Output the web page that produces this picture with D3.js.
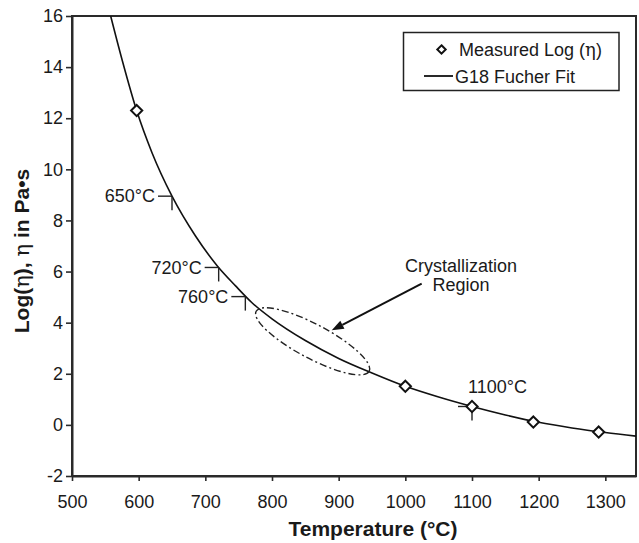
<!DOCTYPE html>
<html>
<head>
<meta charset="utf-8">
<script src="https://cdn.jsdelivr.net/npm/d3@7"></script>
<style>
  html, body { margin: 0; padding: 0; background: #fff; }
  svg { display: block; font-family: "Liberation Sans", Arial, sans-serif; }
</style>
</head>
<body>
<svg id="chart" width="639" height="543"></svg>
<script>
// Measured viscosity points (temperature in °C, log10 viscosity in Pa·s)
const measuredTemp = [597, 1000, 1100, 1192, 1290];
const measuredLog  = [12.3, 1.51, 0.72, 0.11, -0.28];

// G18 Fulcher fit curve, sampled along the drawn line
const fitTemp = [558, 575, 597, 620, 650, 685, 718, 745, 770, 800, 850, 900, 950, 1000, 1050, 1100, 1150, 1200, 1250, 1300, 1346];
const fitLog  = [16.0, 14.3, 12.3, 10.65, 8.95, 7.4, 6.22, 5.45, 4.78, 4.15, 3.3, 2.6, 2.03, 1.51, 1.09, 0.72, 0.39, 0.1, -0.12, -0.3, -0.44];

// Temperature callouts on the curve
const calloutTemp  = [650, 720, 760, 1100];
const calloutLog   = [8.95, 6.16, 5.02, 0.72];
const calloutLabel = ["650°C", "720°C", "760°C", "1100°C"];

// Axis ticks
const xTicks = [500, 600, 700, 800, 900, 1000, 1100, 1200, 1300];
const yTicks = [-2, 0, 2, 4, 6, 8, 10, 12, 14, 16];

// Crystallization region (ellipse centre, arrow ends and label anchor in data units)
const regionCentre = [861, 3.27];
const arrowFrom = [1024.5, 5.53];
const arrowTo   = [889.6, 3.70];
const regionText = ["Crystallization", "Region"];
const regionTextAt = [1083.5, 5.98];

const svg = d3.select("#chart");
const W = 639, H = 543;
const margin = {top: 16, right: 3, bottom: 67, left: 72};

const x = d3.scaleLinear().domain([500, 1346]).range([margin.left, W - margin.right]);
const y = d3.scaleLinear().domain([-2, 16]).range([H - margin.bottom, margin.top]);

const ink = "#1a1a1a";
const fontSize = 18;
const serif = '"DejaVu Serif", "Liberation Serif", serif';

// Plot frame
svg.append("rect")
  .attr("x", x(500)).attr("y", y(16))
  .attr("width", x(1346) - x(500)).attr("height", y(-2) - y(16))
  .attr("fill", "none").attr("stroke", "#2a2a2a").attr("stroke-width", 2);

// Axes
const fmt = d => String(d);
const xAxis = svg.append("g")
  .attr("transform", `translate(0,${y(-2)})`)
  .call(d3.axisBottom(x).tickValues(xTicks).tickFormat(fmt).tickSize(5).tickSizeOuter(0).tickPadding(14));
const yAxis = svg.append("g")
  .attr("transform", `translate(${x(500)},0)`)
  .call(d3.axisLeft(y).tickValues(yTicks).tickFormat(fmt).tickSize(6).tickSizeOuter(0).tickPadding(3));

[xAxis, yAxis].forEach(g => {
  g.select(".domain").attr("stroke", "#2a2a2a").attr("stroke-width", 2);
  g.selectAll(".tick line").attr("stroke", "#2a2a2a").attr("stroke-width", 1.6);
  g.selectAll(".tick text")
    .attr("fill", ink)
    .style("font-size", fontSize + "px")
    .style("font-family", '"Liberation Sans", Arial, sans-serif');
});

// Axis titles
svg.append("text")
  .attr("x", 373).attr("y", 536)
  .attr("text-anchor", "middle")
  .attr("font-weight", "bold").attr("font-size", 21).attr("fill", ink)
  .text("Temperature (°C)");

const yTitle = svg.append("text")
  .attr("transform", `translate(29,251) rotate(-90)`)
  .attr("text-anchor", "middle")
  .attr("font-weight", "bold").attr("font-size", 21).attr("fill", ink);
yTitle.append("tspan").text("Log(");
yTitle.append("tspan").attr("font-family", serif).attr("font-weight", "normal").text("η");
yTitle.append("tspan").text("), ");
yTitle.append("tspan").attr("font-family", serif).attr("font-weight", "normal").text("η");
yTitle.append("tspan").text(" in Pa•s");

// Clip for the fit curve
svg.append("clipPath").attr("id", "plot-clip")
  .append("rect")
  .attr("x", x(500)).attr("y", y(16))
  .attr("width", x(1346) - x(500)).attr("height", y(-2) - y(16));

const fitData = fitTemp.map((t, i) => [t, fitLog[i]]);
const line = d3.line().x(d => x(d[0])).y(d => y(d[1])).curve(d3.curveMonotoneX);

svg.append("path")
  .datum(fitData)
  .attr("clip-path", "url(#plot-clip)")
  .attr("d", line)
  .attr("fill", "none").attr("stroke", "#111").attr("stroke-width", 1.6);

// Crystallization ellipse (dash-dot outline)
const [cx, cy] = [x(regionCentre[0]), y(regionCentre[1])];
svg.append("ellipse")
  .attr("cx", 0).attr("cy", 0).attr("rx", 64).attr("ry", 17)
  .attr("transform", `translate(${cx},${cy}) rotate(28)`)
  .attr("fill", "none").attr("stroke", "#222").attr("stroke-width", 1.4)
  .attr("stroke-dasharray", "7,3,2,3");

// Arrow towards the region
const ax0 = x(arrowFrom[0]), ay0 = y(arrowFrom[1]);
const ax1 = x(arrowTo[0]), ay1 = y(arrowTo[1]);
const ang = Math.atan2(ay1 - ay0, ax1 - ax0);
const headLen = 12, headHalf = 4.5;
const bx = ax1 - headLen * Math.cos(ang), by = ay1 - headLen * Math.sin(ang);
svg.append("line")
  .attr("x1", ax0).attr("y1", ay0).attr("x2", bx).attr("y2", by)
  .attr("stroke", "#111").attr("stroke-width", 2);
svg.append("path")
  .attr("d", `M${ax1},${ay1} L${bx - headHalf * Math.sin(ang)},${by + headHalf * Math.cos(ang)} L${bx + headHalf * Math.sin(ang)},${by - headHalf * Math.cos(ang)} Z`)
  .attr("fill", "#111");

// Region label, two lines
regionText.forEach((s, i) => {
  svg.append("text")
    .attr("x", x(regionTextAt[0])).attr("y", y(regionTextAt[1]) + i * 18.5)
    .attr("text-anchor", "middle").attr("font-size", fontSize).attr("fill", ink)
    .text(s);
});

// Temperature callouts: short horizontal lead to the left and a drop tick below the curve point
calloutTemp.forEach((t, i) => {
  const px = x(t), py = y(calloutLog[i]);
  const g = svg.append("g");
  g.append("line").attr("x1", px - 14).attr("y1", py).attr("x2", px).attr("y2", py)
    .attr("stroke", "#222").attr("stroke-width", 1.4);
  g.append("line").attr("x1", px).attr("y1", py).attr("x2", px).attr("y2", py + 14)
    .attr("stroke", "#222").attr("stroke-width", 1.4);
  if (i < 3) {
    g.append("text").attr("x", px - 17).attr("y", py).attr("dy", "0.35em")
      .attr("text-anchor", "end").attr("font-size", fontSize).attr("fill", ink)
      .text(calloutLabel[i]);
  } else {
    g.append("text").attr("x", px - 4).attr("y", py - 13)
      .attr("text-anchor", "start").attr("font-size", fontSize).attr("fill", ink)
      .text(calloutLabel[i]);
  }
});

// Measured points as open diamonds
const diamond = d3.symbol().type(d3.symbolDiamond2).size(80);
svg.selectAll(".pt")
  .data(measuredTemp.map((t, i) => [t, measuredLog[i]]))
  .join("path")
  .attr("class", "pt")
  .attr("transform", d => `translate(${x(d[0])},${y(d[1])})`)
  .attr("d", diamond)
  .attr("fill", "#fff").attr("stroke", "#111").attr("stroke-width", 2);

// Legend
const lg = svg.append("g");
lg.append("rect").attr("x", 403.5).attr("y", 32.5).attr("width", 215.5).attr("height", 58)
  .attr("fill", "#fff").attr("stroke", "#222").attr("stroke-width", 1.5);
lg.append("path")
  .attr("transform", "translate(441.5,49.5)")
  .attr("d", d3.symbol().type(d3.symbolDiamond2).size(45)())
  .attr("fill", "#fff").attr("stroke", "#111").attr("stroke-width", 2);
const t1 = lg.append("text").attr("x", 459).attr("y", 55.5).attr("font-size", fontSize).attr("fill", ink);
t1.append("tspan").text("Measured Log (");
t1.append("tspan").attr("font-family", serif).text("η");
t1.append("tspan").text(")");
lg.append("line").attr("x1", 424).attr("y1", 76).attr("x2", 453).attr("y2", 76)
  .attr("stroke", "#111").attr("stroke-width", 1.8);
lg.append("text").attr("x", 455).attr("y", 82.5).attr("font-size", fontSize).attr("fill", ink)
  .text("G18 Fucher Fit");
</script>
</body>
</html>
